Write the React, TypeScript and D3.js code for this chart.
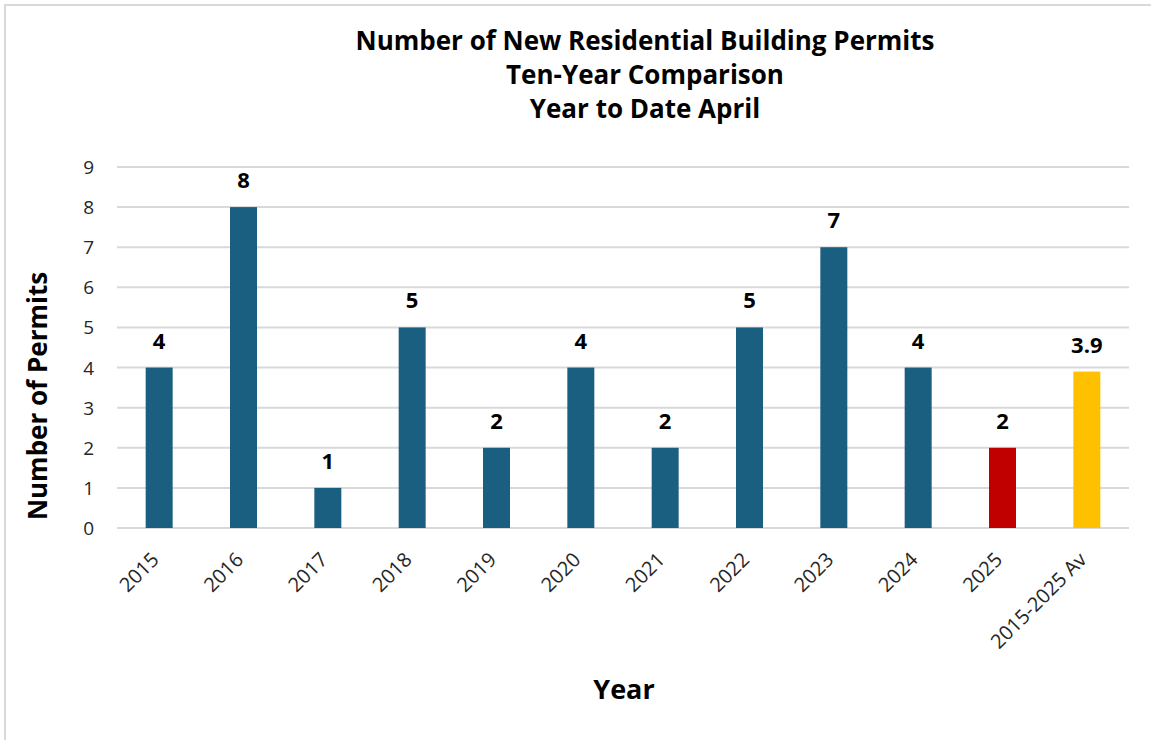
import React from "react";
import * as d3 from "d3";

const categories = ["2015", "2016", "2017", "2018", "2019", "2020", "2021", "2022", "2023", "2024", "2025", "2015-2025 Av"];
const values = [4, 8, 1, 5, 2, 4, 2, 5, 7, 4, 2, 3.9];
const labels = ["4", "8", "1", "5", "2", "4", "2", "5", "7", "4", "2", "3.9"];
const barColors = ["#1a5e80", "#1a5e80", "#1a5e80", "#1a5e80", "#1a5e80", "#1a5e80", "#1a5e80", "#1a5e80", "#1a5e80", "#1a5e80", "#c00000", "#ffc000"];
const yTicks = [0, 1, 2, 3, 4, 5, 6, 7, 8, 9];
const titleLines = ["Number of New Residential Building Permits", "Ten-Year Comparison", "Year to Date April"];

const W = 1151;
const H = 740;
const FONT = "'Open Sans', 'Liberation Sans', Arial, sans-serif";

export default function App() {
  const x = d3.scaleBand<string>().domain(categories).range([117, 1129]).paddingInner(0.68).paddingOuter(0.34);
  const y = d3.scaleLinear().domain([0, 9]).range([528, 167]);
  return (
    <svg width={W} height={H} style={{ position: "absolute", left: 0, top: 0, background: "#fff" }}>
      <rect x={0} y={0} width={W} height={H} fill="#fff" />
      <rect x={5} y={5} width={W + 10} height={H + 10} fill="none" stroke="#d9d9d9" strokeWidth={2} />
      {titleLines.map((t, i) => (
        <text key={t} x={645} y={50 + i * 34} textAnchor="middle" fontFamily={FONT} fontWeight={700} fontSize={26} fill="#000">
          {t}
        </text>
      ))}
      {yTicks.map((t) => (
        <g key={t}>
          <line x1={117} x2={1129} y1={y(t)} y2={y(t)} stroke="#d9d9d9" strokeWidth={2} />
          <text x={94} y={y(t) + 7} textAnchor="end" fontFamily={FONT} fontSize={19} fill="#262626">
            {t}
          </text>
        </g>
      ))}
      {categories.map((c, i) => (
        <g key={c}>
          <rect x={x(c)} y={y(values[i])} width={x.bandwidth()} height={y(0) - y(values[i])} fill={barColors[i]} />
          <text x={(x(c) as number) + x.bandwidth() / 2} y={y(values[i]) - 19} textAnchor="middle" fontFamily={FONT} fontWeight={700} fontSize={22} fill="#000">
            {labels[i]}
          </text>
          <text
            transform={`translate(${(x(c) as number) + x.bandwidth() / 2 + 1},${561}) rotate(-45)`}
            textAnchor="end"
            fontFamily={FONT}
            fontSize={20}
            fill="#262626"
          >
            {c}
          </text>
        </g>
      ))}
      <text x={624} y={699} textAnchor="middle" fontFamily={FONT} fontWeight={700} fontSize={27} fill="#000">
        Year
      </text>
      <text transform={`translate(47,396) rotate(-90)`} textAnchor="middle" fontFamily={FONT} fontWeight={700} fontSize={26} fill="#000">
        Number of Permits
      </text>
    </svg>
  );
}
